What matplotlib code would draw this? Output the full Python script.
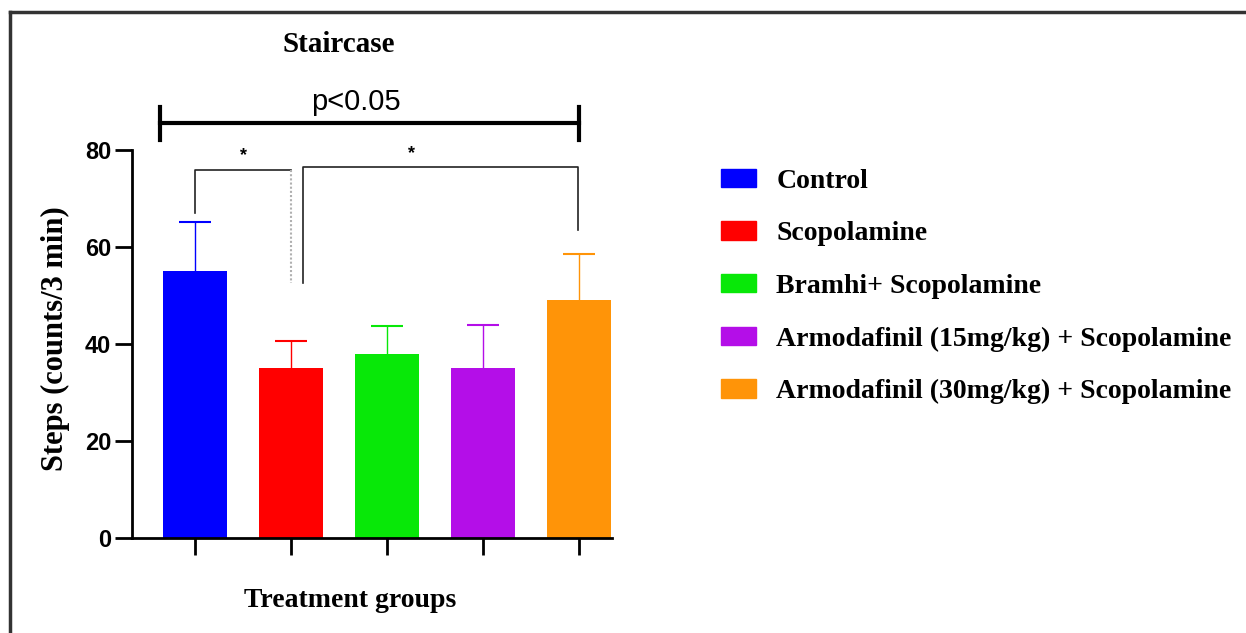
import numpy as np
import matplotlib
matplotlib.use("Agg")
from matplotlib import pyplot as plt
from matplotlib.lines import Line2D

groups = ["Control", "Scopolamine", "Bramhi+ Scopolamine",
          "Armodafinil (15mg/kg) + Scopolamine",
          "Armodafinil (30mg/kg) + Scopolamine"]
means = np.array([55.0, 35.0, 38.0, 35.0, 49.0])
sd = np.array([10.2, 5.6, 5.7, 9.0, 9.5])
colors = ["#0000ff", "#ff0000", "#08e808", "#b40ee8", "#ff9408"]
yticks = [0, 20, 40, 60, 80]

serif = "Liberation Serif"
sans = "Liberation Sans"

fig = plt.figure(figsize=(12.46, 6.33), dpi=100)
ax = fig.add_axes([0.106, 0.150, 0.385, 0.613])

x = np.arange(len(groups))
ax.bar(x, means, width=0.67, color=colors, zorder=2)
# upper error bars only, same colour as bar
ax.vlines(x, means, means + sd, colors=colors, lw=1.0, zorder=1)
ax.hlines(means + sd, x - 0.17, x + 0.17, colors=colors, lw=1.5, zorder=1)

ax.set_xlim(-0.656, 4.34)
ax.set_ylim(0, 80)
ax.set_yticks(yticks)
ax.set_xticks(x)
ax.set_xticklabels([])
for side in ["top", "right"]:
    ax.spines[side].set_visible(False)
for side in ["left", "bottom"]:
    ax.spines[side].set_linewidth(2.0)
ax.tick_params(axis="both", direction="out", length=12, width=2.0)
ax.tick_params(axis="y", labelsize=17, pad=3)
for lbl in ax.get_yticklabels():
    lbl.set_fontfamily(sans)
    lbl.set_fontweight("bold")

ax.set_ylabel("Steps (counts/3 min)", family=serif, weight="bold",
              fontsize=22)
ax.yaxis.set_label_coords(-0.129, 0.513)
ax.set_xlabel("Treatment groups", family=serif, weight="bold", fontsize=20)
ax.xaxis.set_label_coords(0.455, -0.128)
ax.text(1.5, 100.2, "Staircase", ha="center", va="baseline", fontsize=21,
        family=serif, weight="bold", clip_on=False)

# overall bracket
ax.plot([-0.36, 4.0], [85.5, 85.5], color="black", lw=3, clip_on=False)
ax.plot([-0.36, -0.36], [82, 88.8], color="black", lw=3, clip_on=False)
ax.plot([4.0, 4.0], [82, 88.8], color="black", lw=3, clip_on=False)
ax.text(1.67, 88.2, "p<0.05", ha="center", va="baseline", fontsize=21,
        family=sans, clip_on=False)

# pairwise brackets
ax.plot([0.0, 0.0, 1.0], [67.0, 75.8, 75.8], color="#222222", lw=1.2,
        clip_on=False)
ax.plot([1.0, 1.0], [75.8, 52.6], color="#b0b0b0", lw=1.5, ls=(0, (1, 1)),
        clip_on=False)
ax.text(0.5, 77.0, "*", ha="center", va="bottom", fontsize=13,
        family=sans, weight="bold")
ax.plot([1.12, 1.12, 3.99, 3.99], [52.6, 76.5, 76.5, 63.5], color="#222222",
        lw=1.2, clip_on=False)
ax.text(2.25, 77.6, "*", ha="center", va="bottom", fontsize=13,
        family=sans, weight="bold")

# legend
handles = [plt.Rectangle((0, 0), 1, 1, color=c) for c in colors]
fig.legend(handles, groups, loc="upper left", bbox_to_anchor=(0.563, 0.764),
           frameon=False, prop={"family": serif, "weight": "bold", "size": 20},
           handlelength=1.25, handleheight=0.65, handletextpad=0.75,
           labelspacing=0.99, borderpad=0.2)

# frame on top and left of figure
fig.add_artist(Line2D([0.008, 0.008], [0.0, 0.981], color="#333333", lw=2.5))
fig.add_artist(Line2D([0.008, 1.0], [0.981, 0.981], color="#333333", lw=2.5))

fig.savefig("out.png", dpi=100)
